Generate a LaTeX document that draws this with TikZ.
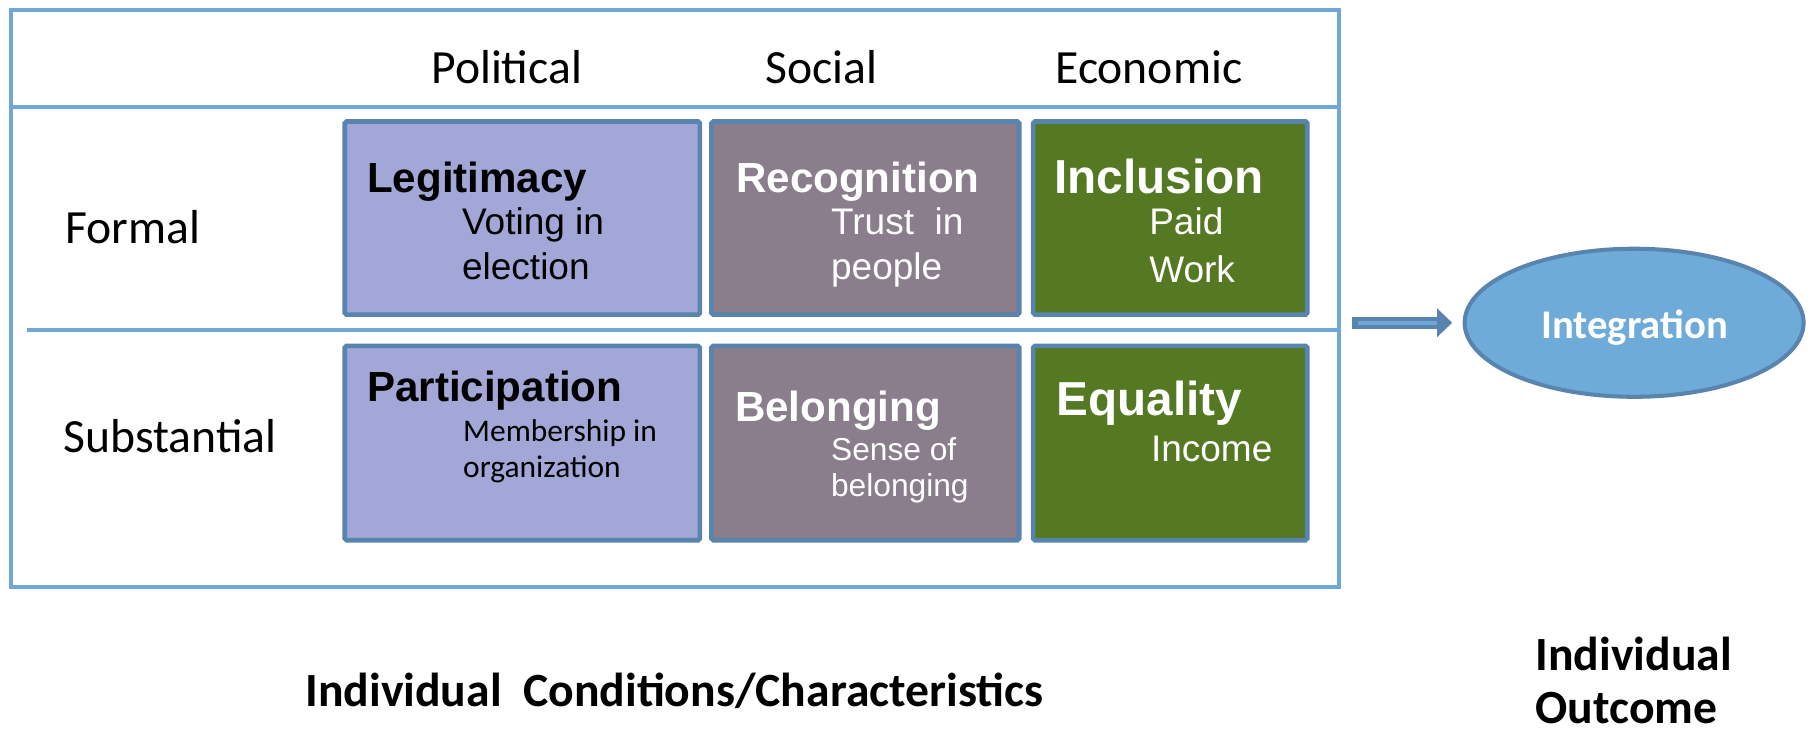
\documentclass[tikz,border=0pt]{standalone}
\usepackage{fontspec}
\usetikzlibrary{arrows.meta,shapes.geometric}
\newfontfamily\calfont{Carlito}
\newfontfamily\arfont{Liberation Sans}
\definecolor{framecol}{HTML}{6FA8D8}
\definecolor{boxborder}{HTML}{5884AD}
\definecolor{lav}{HTML}{A2A7D8}
\definecolor{mauve}{HTML}{8A7D8C}
\definecolor{grn}{HTML}{557923}
\definecolor{ellfill}{HTML}{6EABD8}
\tikzset{
  gridline/.style={draw=framecol, line width=1.75pt},
  box/.style={draw=boxborder, line width=2pt, rounded corners=0.8pt, inner sep=0pt},
  hdr/.style={font=\calfont\fontsize{20.6}{24}\selectfont, inner sep=0pt, anchor=base},
  rowlab/.style={font=\calfont\fontsize{20.6}{24}\selectfont, inner sep=0pt, anchor=base west},
  ttl/.style={font=\arfont\bfseries\fontsize{18.2}{22}\selectfont, inner sep=0pt, anchor=base west},
  bigttl/.style={font=\arfont\bfseries\fontsize{20.6}{24}\selectfont, inner sep=0pt, anchor=base west},
  sub/.style={font=\arfont\fontsize{16}{19}\selectfont, inner sep=0pt, anchor=base west},
  smallsub/.style={font=\arfont\fontsize{13.7}{16}\selectfont, inner sep=0pt, anchor=base west},
  calsub/.style={font=\calfont\fontsize{13.6}{16}\selectfont, inner sep=0pt, anchor=base west},
  bottomlab/.style={font=\calfont\bfseries\fontsize{20.6}{24}\selectfont, inner sep=0pt, anchor=base west},
  fatarrow/.style={draw=boxborder, line width=5.4pt, -{Triangle[length=6.5pt,width=12pt]}, shorten >=4.5pt,
    postaction={draw=framecol, line width=1.6pt, -, shorten <=2.5pt, shorten >=11pt}},
}
\begin{document}
\begin{tikzpicture}[x=0.5pt,y=-0.5pt]
\useasboundingbox (0,0) rectangle (1568,634.4);
% frame and grid
\draw[gridline] (9.2,8.7) rectangle (1157,507);
\draw[gridline] (9.2,92.5) -- (1157,92.5);
\draw[gridline] (23,285) -- (1157,285);
% headers
\node[hdr] (hpol) at (438,72) {Political};
\node[hdr] (hsoc) at (710,72) {Social};
\node[hdr] (heco) at (993,72) {Economic};
\node[rowlab] (lform) at (56,210.5) {Formal};
\node[rowlab] (lsubst) at (54.5,391.5) {Substantial};
% boxes row 1
\node[box, fill=lav,   minimum width=153.5pt, minimum height=83.5pt] (legbox) at (451.5,188.5) {};
\node[box, fill=mauve, minimum width=133pt,   minimum height=83.5pt] (recbox) at (748,188.5) {};
\node[box, fill=grn,   minimum width=118.5pt, minimum height=83.5pt] (incbox) at (1011.5,188.5) {};
% boxes row 2
\node[box, fill=lav,   minimum width=153.5pt, minimum height=84pt] (parbox) at (451.5,383) {};
\node[box, fill=mauve, minimum width=133pt,   minimum height=84pt] (belbox) at (748,383) {};
\node[box, fill=grn,   minimum width=118.5pt, minimum height=84pt] (equbox) at (1011.5,383) {};
% texts row 1
\node[ttl] (tleg) at (317,166) {Legitimacy};
\node[sub] (tleg1) at (399,203) {Voting in};
\node[sub] (tleg2) at (399,242) {election};
\node[ttl, text=white] (trec) at (636,166) {Recognition};
\node[sub, text=white] (trec1) at (718,203) {Trust\ \ in};
\node[sub, text=white] (trec2) at (718,242) {people};
\node[bigttl, text=white] (tinc) at (911,167) {Inclusion};
\node[sub, text=white] (tinc1) at (993,203) {Paid};
\node[sub, text=white] (tinc2) at (993,244) {Work};
% texts row 2
\node[ttl] (tpar) at (317,347) {Participation};
\node[calsub] (tpar1) at (400,382) {Membership in};
\node[calsub] (tpar2) at (400,413) {organization};
\node[ttl, text=white] (tbel) at (635,364.5) {Belonging};
\node[smallsub, text=white] (tbel1) at (718,398) {Sense of};
\node[smallsub, text=white] (tbel2) at (718,429.5) {belonging};
\node[bigttl, text=white] (tequ) at (913,359.5) {Equality};
\node[sub, text=white] (tequ1) at (994.5,399) {Income};
% outcome
\node[ellipse, draw=boxborder, line width=1.75pt, fill=ellfill, minimum width=146.5pt, minimum height=64pt, inner sep=0pt] (integ) at (1412.5,279) {};
\node[font=\calfont\bfseries\fontsize{17.6}{20}\selectfont, text=white, inner sep=0pt, anchor=base] (tinteg) at (1413,293) {Integration};
\coordinate (astart) at (1168.5,279);
\draw[fatarrow] (astart) -- (integ.west);
% bottom labels
\node[bottomlab] (bl) at (263.6,611) {Individual\ \ Conditions/Characteristics};
\node[bottomlab] (br1) at (1327,580) {Individual};
\node[bottomlab] (br2) at (1327,625.5) {Outcome};
\end{tikzpicture}
\end{document}
